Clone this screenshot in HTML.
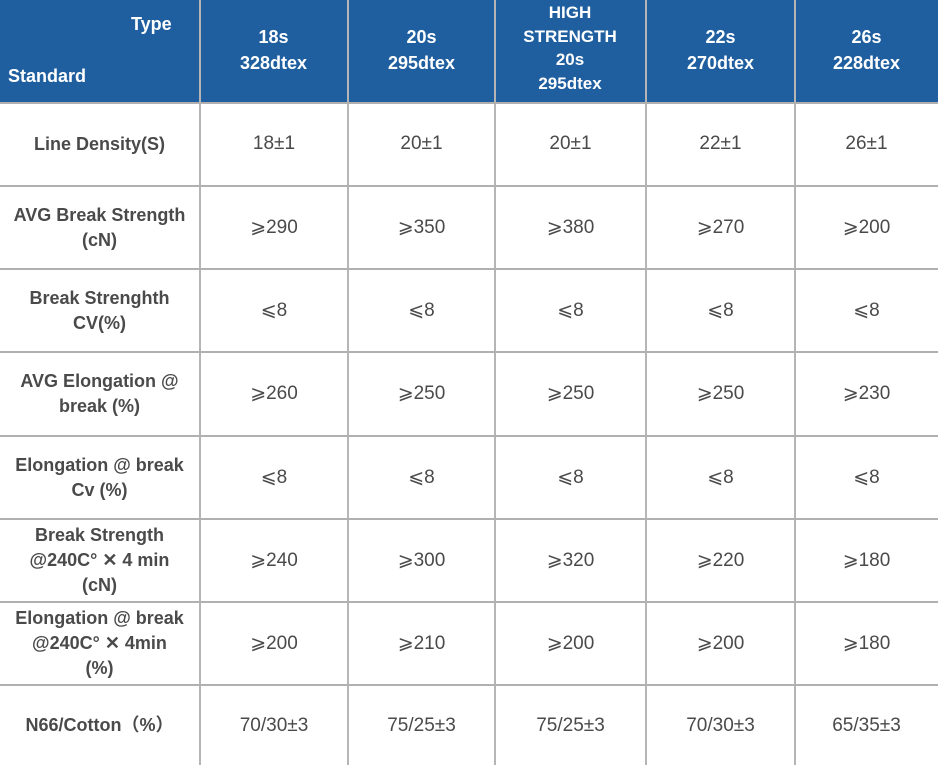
<!DOCTYPE html>
<html><head><meta charset="utf-8"><style>
body{margin:0;width:938px;height:765px;background:#fff;position:relative;overflow:hidden;font-family:"Liberation Sans","Noto Sans CJK SC",sans-serif;color:#4a4a4a}
.c{position:absolute;display:flex;align-items:center;justify-content:center;text-align:center;font-size:19px;line-height:24px}
.l{font-weight:bold;font-size:18px;line-height:25px}
.h{color:#fff;font-weight:bold;font-size:18px;line-height:24px}
.hl{position:absolute;left:0;width:938px;height:2px;background:#b0b0b0}
.vl{position:absolute;width:1.5px;background:#b5b5b5;top:0;height:765px}
</style></head><body>
<div style="position:absolute;left:0;top:0;width:938px;height:102px;background:#1f5f9f"></div>
<div class="vl" style="left:199px"></div><div class="vl" style="left:347px"></div><div class="vl" style="left:494px"></div><div class="vl" style="left:645px"></div><div class="vl" style="left:794px"></div>
<div class="hl" style="top:102px"></div><div class="hl" style="top:185px"></div><div class="hl" style="top:268px"></div><div class="hl" style="top:351px"></div><div class="hl" style="top:435px"></div><div class="hl" style="top:518px"></div><div class="hl" style="top:601px"></div><div class="hl" style="top:684px"></div>
<div class="h" style="position:absolute;left:131px;top:12px">Type</div>
<div class="h" style="position:absolute;left:8px;top:64px">Standard</div>
<div class="c h" style="left:200px;top:22px;width:147px;height:55px;line-height:26px">18s<br>328dtex</div>
<div class="c h" style="left:348px;top:22px;width:147px;height:55px;line-height:26px">20s<br>295dtex</div>
<div class="c h" style="left:495px;top:0;width:150px;height:96px;font-size:17px;line-height:23.5px">HIGH<br>STRENGTH<br>20s<br>295dtex</div>
<div class="c h" style="left:646px;top:22px;width:149px;height:55px;line-height:26px">22s<br>270dtex</div>
<div class="c h" style="left:795px;top:22px;width:143px;height:55px;line-height:26px">26s<br>228dtex</div>
<div id="rows"></div>
<script>
var rows=[
[103,185,"Line Density(S)",["18±1","20±1","20±1","22±1","26±1"]],
[187,268,"AVG Break Strength<br>(cN)",["⩾290","⩾350","⩾380","⩾270","⩾200"]],
[270,351,"Break Strenghth<br>CV(%)",["⩽8","⩽8","⩽8","⩽8","⩽8"]],
[353,435,"AVG Elongation @<br>break (%)",["⩾260","⩾250","⩾250","⩾250","⩾230"]],
[437,518,"Elongation @ break<br>Cv (%)",["⩽8","⩽8","⩽8","⩽8","⩽8"]],
[520,601,"Break Strength<br>@240C° ✕ 4 min<br>(cN)",["⩾240","⩾300","⩾320","⩾220","⩾180"]],
[603,684,"Elongation @ break<br>@240C° ✕ 4min<br>(%)",["⩾200","⩾210","⩾200","⩾200","⩾180"]],
[686,765,"N66/Cotton（%）",["70/30±3","75/25±3","75/25±3","70/30±3","65/35±3"]]];
var xs=[200,348,495,646,795,938],h="";
rows.forEach(function(r){var t=r[0],hh=r[1]-r[0];
h+='<div class="c l" style="left:0;top:'+t+'px;width:199px;height:'+hh+'px">'+r[2]+'</div>';
for(var i=0;i<5;i++)h+='<div class="c" style="left:'+xs[i]+'px;top:'+t+'px;width:'+(xs[i+1]-xs[i])+'px;height:'+hh+'px">'+r[3][i]+'</div>';});
document.getElementById('rows').innerHTML=h;
</script>
</body></html>
